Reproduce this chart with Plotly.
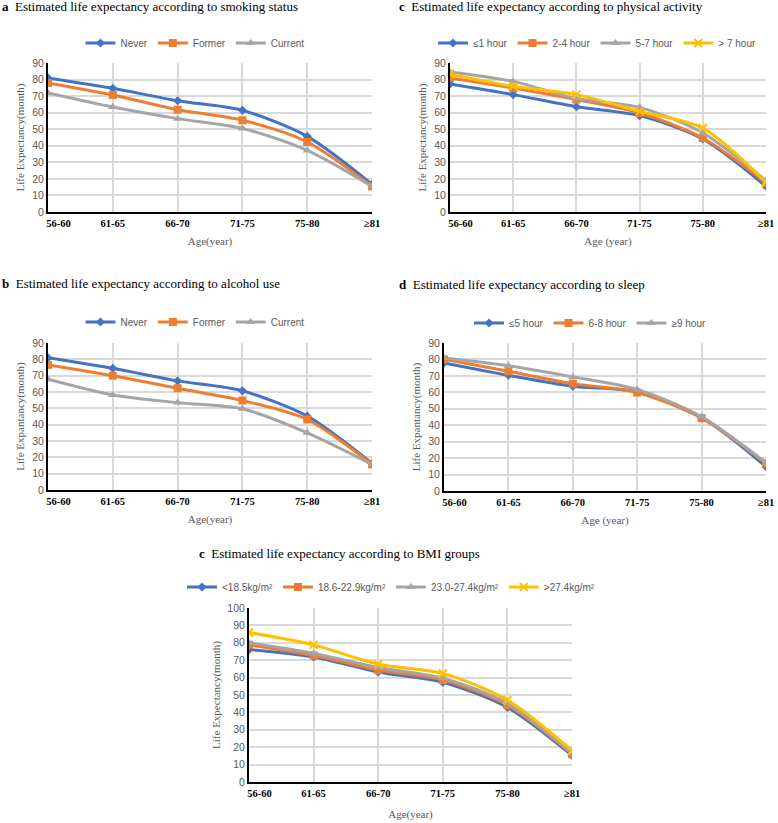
import plotly.graph_objects as go

# life expectancy panels
ages = ["56-60", "61-65", "66-70", "71-75", "75-80", "≥81"]
NB = "\u00a0"
age_labels = [NB * 8 + "56-60", "61-65", "66-70", "71-75", "75-80", "≥81"]

smk_never = [81.0, 74.7, 67.2, 61.4, 45.7, 16.7]
smk_former = [78.0, 70.7, 61.8, 55.4, 42.3, 15.5]
smk_current = [71.9, 63.4, 56.4, 50.5, 37.2, 15.5]

alc_never = [81.0, 74.5, 66.8, 60.7, 45.2, 16.3]
alc_former = [76.6, 70.0, 62.3, 54.8, 43.2, 15.7]
alc_current = [67.8, 58.2, 53.5, 49.7, 35.0, 15.7]

pa_le1 = [77.3, 70.9, 63.6, 58.2, 44.1, 15.5]
pa_2_4 = [81.0, 74.9, 67.9, 59.8, 44.7, 17.5]
pa_5_7 = [84.6, 78.9, 68.5, 63.2, 47.7, 18.9]
pa_gt7 = [83.2, 75.9, 70.9, 60.8, 50.7, 17.9]

slp_le5 = [77.9, 70.4, 63.7, 60.3, 44.7, 14.8]
slp_6_8 = [80.1, 72.8, 65.3, 59.9, 44.3, 16.8]
slp_ge9 = [80.9, 76.2, 69.4, 61.7, 45.1, 17.2]

bmi_lt185 = [76.1, 71.8, 63.2, 57.3, 42.9, 15.3]
bmi_186 = [78.8, 72.7, 64.3, 58.6, 44.1, 16.0]
bmi_230 = [80.0, 73.9, 65.8, 59.7, 45.2, 16.6]
bmi_gt274 = [85.9, 78.8, 67.7, 62.4, 47.1, 18.1]

BLUE = "#4472C4"
ORANGE = "#ED7D31"
GRAY = "#A5A5A5"
YELLOW = "#FFC000"
W, H = 778, 823

def fx(px):
    return px / W

def fy(py):
    return 1 - py / H

def sym(color, kind):
    if kind == "x":
        return dict(symbol="x-thin", size=8, color=color, line=dict(width=2, color=color))
    return dict(symbol=kind, size=8 if kind != "diamond" else 7, color=color, line=dict(width=0))

def line(y, name, color, kind, n):
    ax = "" if n == 1 else str(n)
    return go.Scatter(
        x=ages, y=y, name=name, mode="lines+markers",
        line=dict(color=color, width=3, shape="spline", smoothing=0.8),
        marker=sym(color, kind),
        xaxis="x" + ax, yaxis="y" + ax,
        legend="legend" if n == 1 else "legend" + ax,
    )

fig = go.Figure()
fig.add_trace(line(smk_never, "Never", BLUE, "diamond", 1))
fig.add_trace(line(smk_former, "Former", ORANGE, "square", 1))
fig.add_trace(line(smk_current, "Current", GRAY, "triangle-up", 1))

fig.add_trace(line(pa_le1, "≤1 hour", BLUE, "diamond", 2))
fig.add_trace(line(pa_2_4, "2-4 hour", ORANGE, "square", 2))
fig.add_trace(line(pa_5_7, "5-7 hour", GRAY, "triangle-up", 2))
fig.add_trace(line(pa_gt7, "> 7 hour", YELLOW, "x", 2))

fig.add_trace(line(alc_never, "Never", BLUE, "diamond", 3))
fig.add_trace(line(alc_former, "Former", ORANGE, "square", 3))
fig.add_trace(line(alc_current, "Current", GRAY, "triangle-up", 3))

fig.add_trace(line(slp_le5, "≤5 hour", BLUE, "diamond", 4))
fig.add_trace(line(slp_6_8, "6-8 hour", ORANGE, "square", 4))
fig.add_trace(line(slp_ge9, "≥9 hour", GRAY, "triangle-up", 4))

fig.add_trace(line(bmi_lt185, "&lt;18.5kg/m²", BLUE, "diamond", 5))
fig.add_trace(line(bmi_186, "18.6-22.9kg/m²", ORANGE, "square", 5))
fig.add_trace(line(bmi_230, "23.0-27.4kg/m²", GRAY, "triangle-up", 5))
fig.add_trace(line(bmi_gt274, ">27.4kg/m²", YELLOW, "x", 5))

# panel boxes in pixels: left, right, top, bottom
boxes = {
    1: (48, 372, 63, 212),
    2: (450, 766, 63, 212),
    3: (48, 372, 343, 490),
    4: (444, 766, 343, 491),
    5: (249, 572, 608, 782),
}
ytitles = {1: "Life Expectancy(month)", 2: "Life Expectancy(month)",
           3: "Life Expantancy(month)", 4: "Life Expantancy(month)",
           5: "Life Expectancy(month)"}
xtitles = {1: "Age(year)", 2: "Age (year)", 3: "Age(year)", 4: "Age (year)", 5: "Age(year)"}
legend_pos = {1: (195, 43), 2: (597, 43), 3: (195, 322), 4: (590, 323), 5: (391, 587)}

serif = "Liberation Serif"
sans = "Liberation Sans"
lay = {}
for n, (l, r, t, b) in boxes.items():
    ax = "" if n == 1 else str(n)
    ymax = 100 if n == 5 else 90
    lay["xaxis" + ax] = dict(
        domain=[fx(l), fx(r)], anchor="y" + ax, type="category",
        range=[0, 5], showgrid=True, gridcolor="#D9D9D9", gridwidth=1.5,
        showline=True, linecolor="black", linewidth=2, ticks="",
        tickmode="array", tickvals=ages, ticktext=age_labels,
        tickfont=dict(family=serif, size=10.5, color="black", weight="bold"),
        title=dict(text=xtitles[n], font=dict(family=serif, size=11, color="#595959"),
                   standoff=13 if n == 5 else 10),
        zeroline=False, fixedrange=True, automargin=False,
    )
    lay["yaxis" + ax] = dict(
        domain=[fy(b), fy(t)], anchor="x" + ax,
        range=[0, ymax], dtick=10, showgrid=True, gridcolor="#D9D9D9", gridwidth=1.5,
        showline=True, linecolor="black", linewidth=2, ticks="",
        tickfont=dict(family=sans, size=10.5, color="#595959"),
        title=dict(text=ytitles[n], font=dict(family=serif, size=11, color="#595959"), standoff=5),
        zeroline=False, fixedrange=True, automargin=False,
    )
    lx, ly = legend_pos[n]
    lay["legend" if n == 1 else "legend" + ax] = dict(
        orientation="h", x=fx(lx), y=fy(ly), xanchor="center", yanchor="middle",
        font=dict(family=sans, size=10, color="#595959"), itemwidth=30,
        bgcolor="rgba(0,0,0,0)", tracegroupgap=0,
    )

titles = [
    ("a", "Estimated life expectancy according to smoking status", 0, 6),
    ("c", "Estimated life expectancy according to physical activity", 397, 6),
    ("b", "Estimated life expectancy according to alcohol use", 0, 283),
    ("d", "Estimated life expectancy according to sleep", 397, 285),
    ("c", "Estimated life expectancy according to BMI groups", 197, 553),
]
annotations = []
for letter, txt, px, py in titles:
    annotations.append(dict(
        text="<b>" + letter + "</b>  " + txt, x=fx(px), y=fy(py),
        xref="paper", yref="paper", xanchor="left", yanchor="middle",
        showarrow=False, font=dict(family=serif, size=13, color="black"),
    ))

fig.update_layout(
    width=W, height=H, margin=dict(l=0, r=0, t=0, b=0),
    paper_bgcolor="white", plot_bgcolor="white",
    annotations=annotations, **lay,
)

# drop the browser's default 8px body margin so the figure sits at the page corner
fig.write_html("out.html", config={"displayModeBar": False},
               post_script="document.body.style.margin = '0';")
